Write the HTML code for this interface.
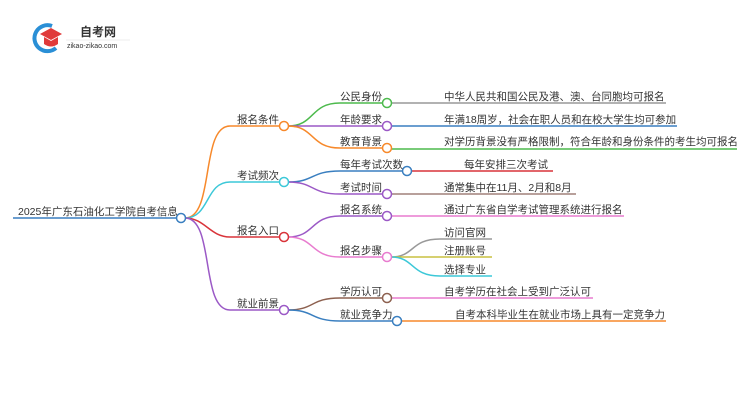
<!DOCTYPE html>
<html><head><meta charset="utf-8"><style>
html,body{margin:0;padding:0;background:#fff;}
svg{display:block;}
text{font-family:"Liberation Sans","Noto Sans CJK SC",sans-serif;fill:#333;}
</style></head><body>
<svg width="750" height="410" viewBox="0 0 750 410" xmlns="http://www.w3.org/2000/svg">
<path d="M52 26 A13 13 0 1 0 56 48" fill="none" stroke="#2a8fd6" stroke-width="4"/>
<polygon points="40,34 51,28 62,34 51,40" fill="#e03a3a"/>
<path d="M44 37 L44 44 Q51 49 58 44 L58 37 L51 41 Z" fill="#e03a3a"/>
<text x="80" y="36" font-size="12" font-weight="bold" fill="#222">自考网</text>
<line x1="66" y1="40" x2="130" y2="40" stroke="#ddd" stroke-width="0.6"/>
<text x="67" y="48" font-size="7" fill="#777">zikao-zikao.com</text>

<g fill="none" stroke-width="1.5">
<line x1="13" y1="218" x2="177" y2="218" stroke="#3a7fc0"/>
<path d="M185 218 C215 218 200 126 230 126 L280 126" stroke="#f7892b"/>
<path d="M185 218 C210 218 205 182 230 182 L280 182" stroke="#3cc8d8"/>
<path d="M185 218 C205 218 210 237 230 237 L280 237" stroke="#d9343a"/>
<path d="M185 218 C215 218 200 310 230 310 L280 310" stroke="#9b59c6"/>
<path d="M288 126 C315 126 310 103 340 103 L383 103" stroke="#4dba4d"/>
<path d="M288 126 L383 126" stroke="#9b59c6"/>
<path d="M288 126 C315 126 310 148 340 148 L383 148" stroke="#f7892b"/>
<path d="M288 182 C315 182 310 171 340 171 L403 171" stroke="#3a7fc0"/>
<path d="M288 182 C315 182 310 194 340 194 L383 194" stroke="#9b59c6"/>
<path d="M288 237 C315 237 310 216 340 216 L383 216" stroke="#9b59c6"/>
<path d="M288 237 C315 237 310 257 340 257 L383 257" stroke="#e87ccf"/>
<path d="M288 310 C315 310 310 298 340 298 L383 298" stroke="#8d6150"/>
<path d="M288 310 C315 310 310 321 340 321 L393 321" stroke="#3a7fc0"/>
<line x1="391" y1="103" x2="666" y2="103" stroke="#999"/>
<line x1="391" y1="126" x2="677" y2="126" stroke="#3a7fc0"/>
<line x1="391" y1="149" x2="737" y2="149" stroke="#4dba4d"/>
<line x1="411" y1="171" x2="553" y2="171" stroke="#d9343a"/>
<line x1="391" y1="194" x2="576" y2="194" stroke="#a0807a"/>
<line x1="391" y1="216" x2="624" y2="216" stroke="#e87ccf"/>
<path d="M391 257 C415 257 410 239 440 239 L492 239" stroke="#999"/>
<path d="M391 257 L492 257" stroke="#c8c040"/>
<path d="M391 257 C415 257 410 276 440 276 L492 276" stroke="#3cc8d8"/>
<line x1="391" y1="298" x2="593" y2="298" stroke="#e87ccf"/>
<line x1="401" y1="321" x2="666" y2="321" stroke="#f7892b"/>
</g>
<g fill="#fff" stroke-width="1.5">
<circle cx="181" cy="218" r="4.5" stroke="#3a7fc0"/>
<circle cx="284" cy="126" r="4.5" stroke="#f7892b"/>
<circle cx="284" cy="182" r="4.5" stroke="#3cc8d8"/>
<circle cx="284" cy="237" r="4.5" stroke="#d9343a"/>
<circle cx="284" cy="310" r="4.5" stroke="#9b59c6"/>
<circle cx="387" cy="103" r="4.5" stroke="#4dba4d"/>
<circle cx="387" cy="126" r="4.5" stroke="#9b59c6"/>
<circle cx="387" cy="148" r="4.5" stroke="#f7892b"/>
<circle cx="407" cy="171" r="4.5" stroke="#3a7fc0"/>
<circle cx="387" cy="194" r="4.5" stroke="#9b59c6"/>
<circle cx="387" cy="216" r="4.5" stroke="#9b59c6"/>
<circle cx="387" cy="257" r="4.5" stroke="#e87ccf"/>
<circle cx="387" cy="298" r="4.5" stroke="#8d6150"/>
<circle cx="397" cy="321" r="4.5" stroke="#3a7fc0"/>
</g>
<g font-size="10.5">
<text x="18" y="215">2025年广东石油化工学院自考信息</text>
<text x="237" y="123">报名条件</text>
<text x="237" y="179">考试频次</text>
<text x="237" y="234">报名入口</text>
<text x="237" y="307">就业前景</text>
<text x="340" y="100">公民身份</text>
<text x="340" y="123">年龄要求</text>
<text x="340" y="145">教育背景</text>
<text x="340" y="168">每年考试次数</text>
<text x="340" y="191">考试时间</text>
<text x="340" y="213">报名系统</text>
<text x="340" y="254">报名步骤</text>
<text x="340" y="295">学历认可</text>
<text x="340" y="318">就业竞争力</text>
<text x="444" y="100">中华人民共和国公民及港、澳、台同胞均可报名</text>
<text x="444" y="123">年满18周岁，社会在职人员和在校大学生均可参加</text>
<text x="444" y="145">对学历背景没有严格限制，符合年龄和身份条件的考生均可报名</text>
<text x="464" y="168">每年安排三次考试</text>
<text x="444" y="191">通常集中在11月、2月和8月</text>
<text x="444" y="213">通过广东省自学考试管理系统进行报名</text>
<text x="444" y="236">访问官网</text>
<text x="444" y="254">注册账号</text>
<text x="444" y="273">选择专业</text>
<text x="444" y="295">自考学历在社会上受到广泛认可</text>
<text x="455" y="318">自考本科毕业生在就业市场上具有一定竞争力</text>
</g>
</svg>
</body></html>
